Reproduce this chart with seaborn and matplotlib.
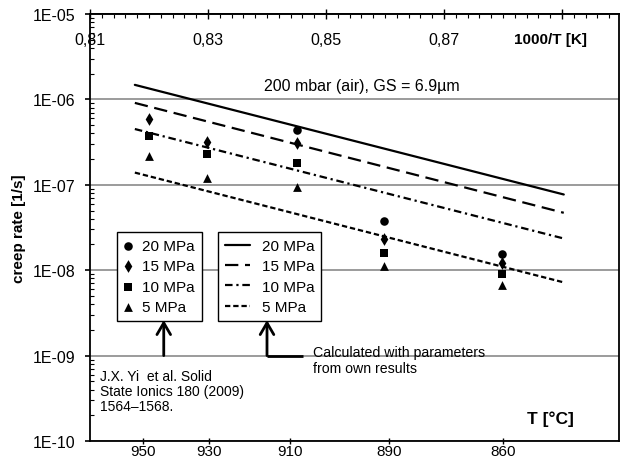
import numpy as np
import pandas as pd
import matplotlib
matplotlib.use("Agg")
import matplotlib.pyplot as plt
from matplotlib.ticker import FixedLocator, MultipleLocator, LogLocator, FuncFormatter, NullFormatter
import seaborn as sns

# ---------------- data ----------------
stress_labels = ["20 MPa", "15 MPa", "10 MPa", "5 MPa"]

# experimental points (J.X. Yi et al.), x = 1000/T [1/K]
pt_x_all = [0.8200, 0.8298, 0.8451, 0.8598, 0.8798]
pt_x_20 = [0.8451, 0.8598, 0.8798]
rate_pts_20 = [4.34e-7, 3.79e-8, 1.53e-8]
rate_pts_15 = [5.9e-7, 3.17e-7, 3.08e-7, 2.35e-8, 1.23e-8]
rate_pts_10 = [3.7e-7, 2.27e-7, 1.82e-7, 1.57e-8, 9.0e-9]
rate_pts_5 = [2.15e-7, 1.21e-7, 9.3e-8, 1.12e-8, 6.8e-9]

# calculated lines (own parameters)
line_x = [0.8176, 0.8903]
rate_line_20 = [1.48e-6, 7.7e-8]
rate_line_15 = [9.1e-7, 4.7e-8]
rate_line_10 = [4.5e-7, 2.35e-8]
rate_line_5 = [1.39e-7, 7.2e-9]

# axes ticks
inv_ticks = [0.81, 0.83, 0.85, 0.87, 0.89]
inv_labels = ["0,81", "0,83", "0,85", "0,87", ""]
temp_tick_pos = [0.8190, 0.8302, 0.8439, 0.8607, 0.8800]
temp_labels = ["950", "930", "910", "890", "860"]

# ---------------- style ----------------
sns.set_theme(style="ticks")
plt.rcParams["font.family"] = ["Liberation Sans", "DejaVu Sans"]
plt.rcParams["font.size"] = 11
plt.rcParams["axes.linewidth"] = 1.3
for key in ["text.color", "axes.labelcolor", "xtick.color", "ytick.color", "axes.edgecolor"]:
    plt.rcParams[key] = "black"

fig = plt.figure(figsize=(6.28, 4.6), dpi=100)
ax = fig.add_axes([90 / 628, 18 / 460, 529 / 628, 427 / 460])

# experimental points
pts = pd.DataFrame({
    "x": pt_x_20 + pt_x_all * 3,
    "rate": rate_pts_20 + rate_pts_15 + rate_pts_10 + rate_pts_5,
    "stress": [stress_labels[0]] * 3 + [stress_labels[1]] * 5 + [stress_labels[2]] * 5 + [stress_labels[3]] * 5,
})
markers = {"20 MPa": "o", "15 MPa": "d", "10 MPa": "s", "5 MPa": "^"}
sizes = {"20 MPa": 38, "15 MPa": 42, "10 MPa": 34, "5 MPa": 40}
for lab in stress_labels:
    sub = pts[pts["stress"] == lab]
    sns.scatterplot(data=sub, x="x", y="rate", marker=markers[lab], s=sizes[lab],
                    color="black", edgecolor="black", linewidth=0, ax=ax,
                    label=lab, legend=False, zorder=4)

# calculated lines
lines = pd.DataFrame({
    "x": line_x * 4,
    "rate": rate_line_20 + rate_line_15 + rate_line_10 + rate_line_5,
    "stress": sum([[s] * 2 for s in stress_labels], []),
})
dash_styles = {"20 MPa": "-", "15 MPa": (0, (6, 3)), "10 MPa": (0, (3.4, 1.7, 1, 1.7)), "5 MPa": (0, (2.4, 1.3))}
for lab in stress_labels:
    sub = lines[lines["stress"] == lab]
    sns.lineplot(data=sub, x="x", y="rate", color="black", lw=1.6, linestyle=dash_styles[lab],
                 ax=ax, label=lab, legend=False, zorder=3)

handles, labels = ax.get_legend_handles_labels()
if ax.get_legend() is not None:
    ax.get_legend().remove()
pt_handles = handles[:4]
ln_handles = handles[4:8]

ax.set_yscale("log")
ax.set_ylim(1e-10, 1e-5)
ax.set_xlim(0.81, 0.81 + 529 / 5900)

# y axis
ax.yaxis.set_major_locator(FixedLocator([1e-10, 1e-9, 1e-8, 1e-7, 1e-6, 1e-5]))
ax.yaxis.set_major_formatter(FuncFormatter(lambda v, p: "1E{:03d}".format(int(round(np.log10(v))))))
ax.yaxis.set_minor_locator(LogLocator(base=10, subs=np.arange(2, 10), numticks=20))
ax.yaxis.set_minor_formatter(NullFormatter())
ax.tick_params(axis="y", which="major", direction="out", length=3.6, width=1.2, pad=7, labelsize=11.5, colors="black")
ax.tick_params(axis="y", which="minor", direction="in", length=3, width=0.8, colors="black")
ax.yaxis.grid(True, which="major", color="#8a8a8a", lw=1.2)
ax.xaxis.grid(False)
ax.set_ylabel("creep rate [1/s]", fontweight="bold", fontsize=11, color="black")
ax.yaxis.set_label_coords((26 - 90) / 529, 0.5)

# bottom x axis (temperature)
ax.xaxis.set_major_locator(FixedLocator(temp_tick_pos))
ax.set_xticklabels(temp_labels)
ax.tick_params(axis="x", which="major", direction="inout", length=5, width=1, pad=0, labelsize=11,
               bottom=True, top=False, colors="black")
ax.set_xlabel("")

# top axis (1000/T)
sec = ax.secondary_xaxis("top")
sec.xaxis.set_major_locator(FixedLocator(inv_ticks))
sec.set_xticklabels(inv_labels)
sec.xaxis.set_minor_locator(MultipleLocator(0.002))
sec.tick_params(axis="x", which="major", direction="inout", length=7, width=1, pad=-27, labelsize=11.5, colors="black")
sec.tick_params(axis="x", which="minor", direction="in", length=3, width=0.8, colors="black")
sec.spines["top"].set_linewidth(1.3)
sec.spines["top"].set_color("black")

for s in ax.spines.values():
    s.set_color("black")
    s.set_linewidth(1.3)

# legends
leg_kw = dict(frameon=True, fancybox=False, edgecolor="black", framealpha=1, fontsize=11,
              borderaxespad=0, labelspacing=0.42, borderpad=0.45, labelcolor="black")
anchor_y = (443 - 234) / 427
leg1 = ax.legend(pt_handles, stress_labels, loc="upper left",
                 bbox_to_anchor=((117 - 90) / 529, anchor_y),
                 handlelength=0.6, handletextpad=0.6, **leg_kw)
leg1.get_frame().set_linewidth(1.0)
ax.add_artist(leg1)
leg2 = ax.legend(ln_handles, stress_labels, loc="upper left",
                 bbox_to_anchor=((218 - 90) / 529, anchor_y),
                 handlelength=1.64, handletextpad=0.78, **leg_kw)
leg2.get_frame().set_linewidth(1.0)

# annotations
ax.text(0.514, 0.832, "200 mbar (air), GS = 6.9\u00b5m", transform=ax.transAxes,
        ha="center", va="center", fontsize=11.5)
ax.text(0.870, 0.942, "1000/T [K]", transform=ax.transAxes, ha="center", va="center",
        fontsize=11, fontweight="bold")
ax.text(0.871, 0.054, "T [\u00b0C]", transform=ax.transAxes, ha="center", va="center",
        fontsize=12.5, fontweight="bold")
ax.text((100 - 90) / 529, (443 - 393) / 427, "J.X. Yi  et al. Solid\nState Ionics 180 (2009)\n1564\u20131568.",
        transform=ax.transAxes, ha="left", va="center", fontsize=10, linespacing=1.12)
ax.text((313 - 90) / 529, (443 - 362) / 427, "Calculated with parameters\nfrom own results",
        transform=ax.transAxes, ha="left", va="center", fontsize=10.2, linespacing=1.25)

arrow_kw = dict(arrowstyle="->,head_length=0.6,head_width=0.35", color="black", lw=2, mutation_scale=14,
                shrinkA=0, shrinkB=0)
ax.annotate("", xy=(0.8225, 2.6e-9), xytext=(0.8225, 1e-9), arrowprops=arrow_kw)
ax.annotate("", xy=(0.8400, 2.6e-9), xytext=(0.8400, 1e-9), arrowprops=arrow_kw)
ax.plot([0.8400, 0.8461], [1e-9, 1e-9], color="black", lw=2, solid_capstyle="butt")

fig.savefig("out.png", dpi=100)
